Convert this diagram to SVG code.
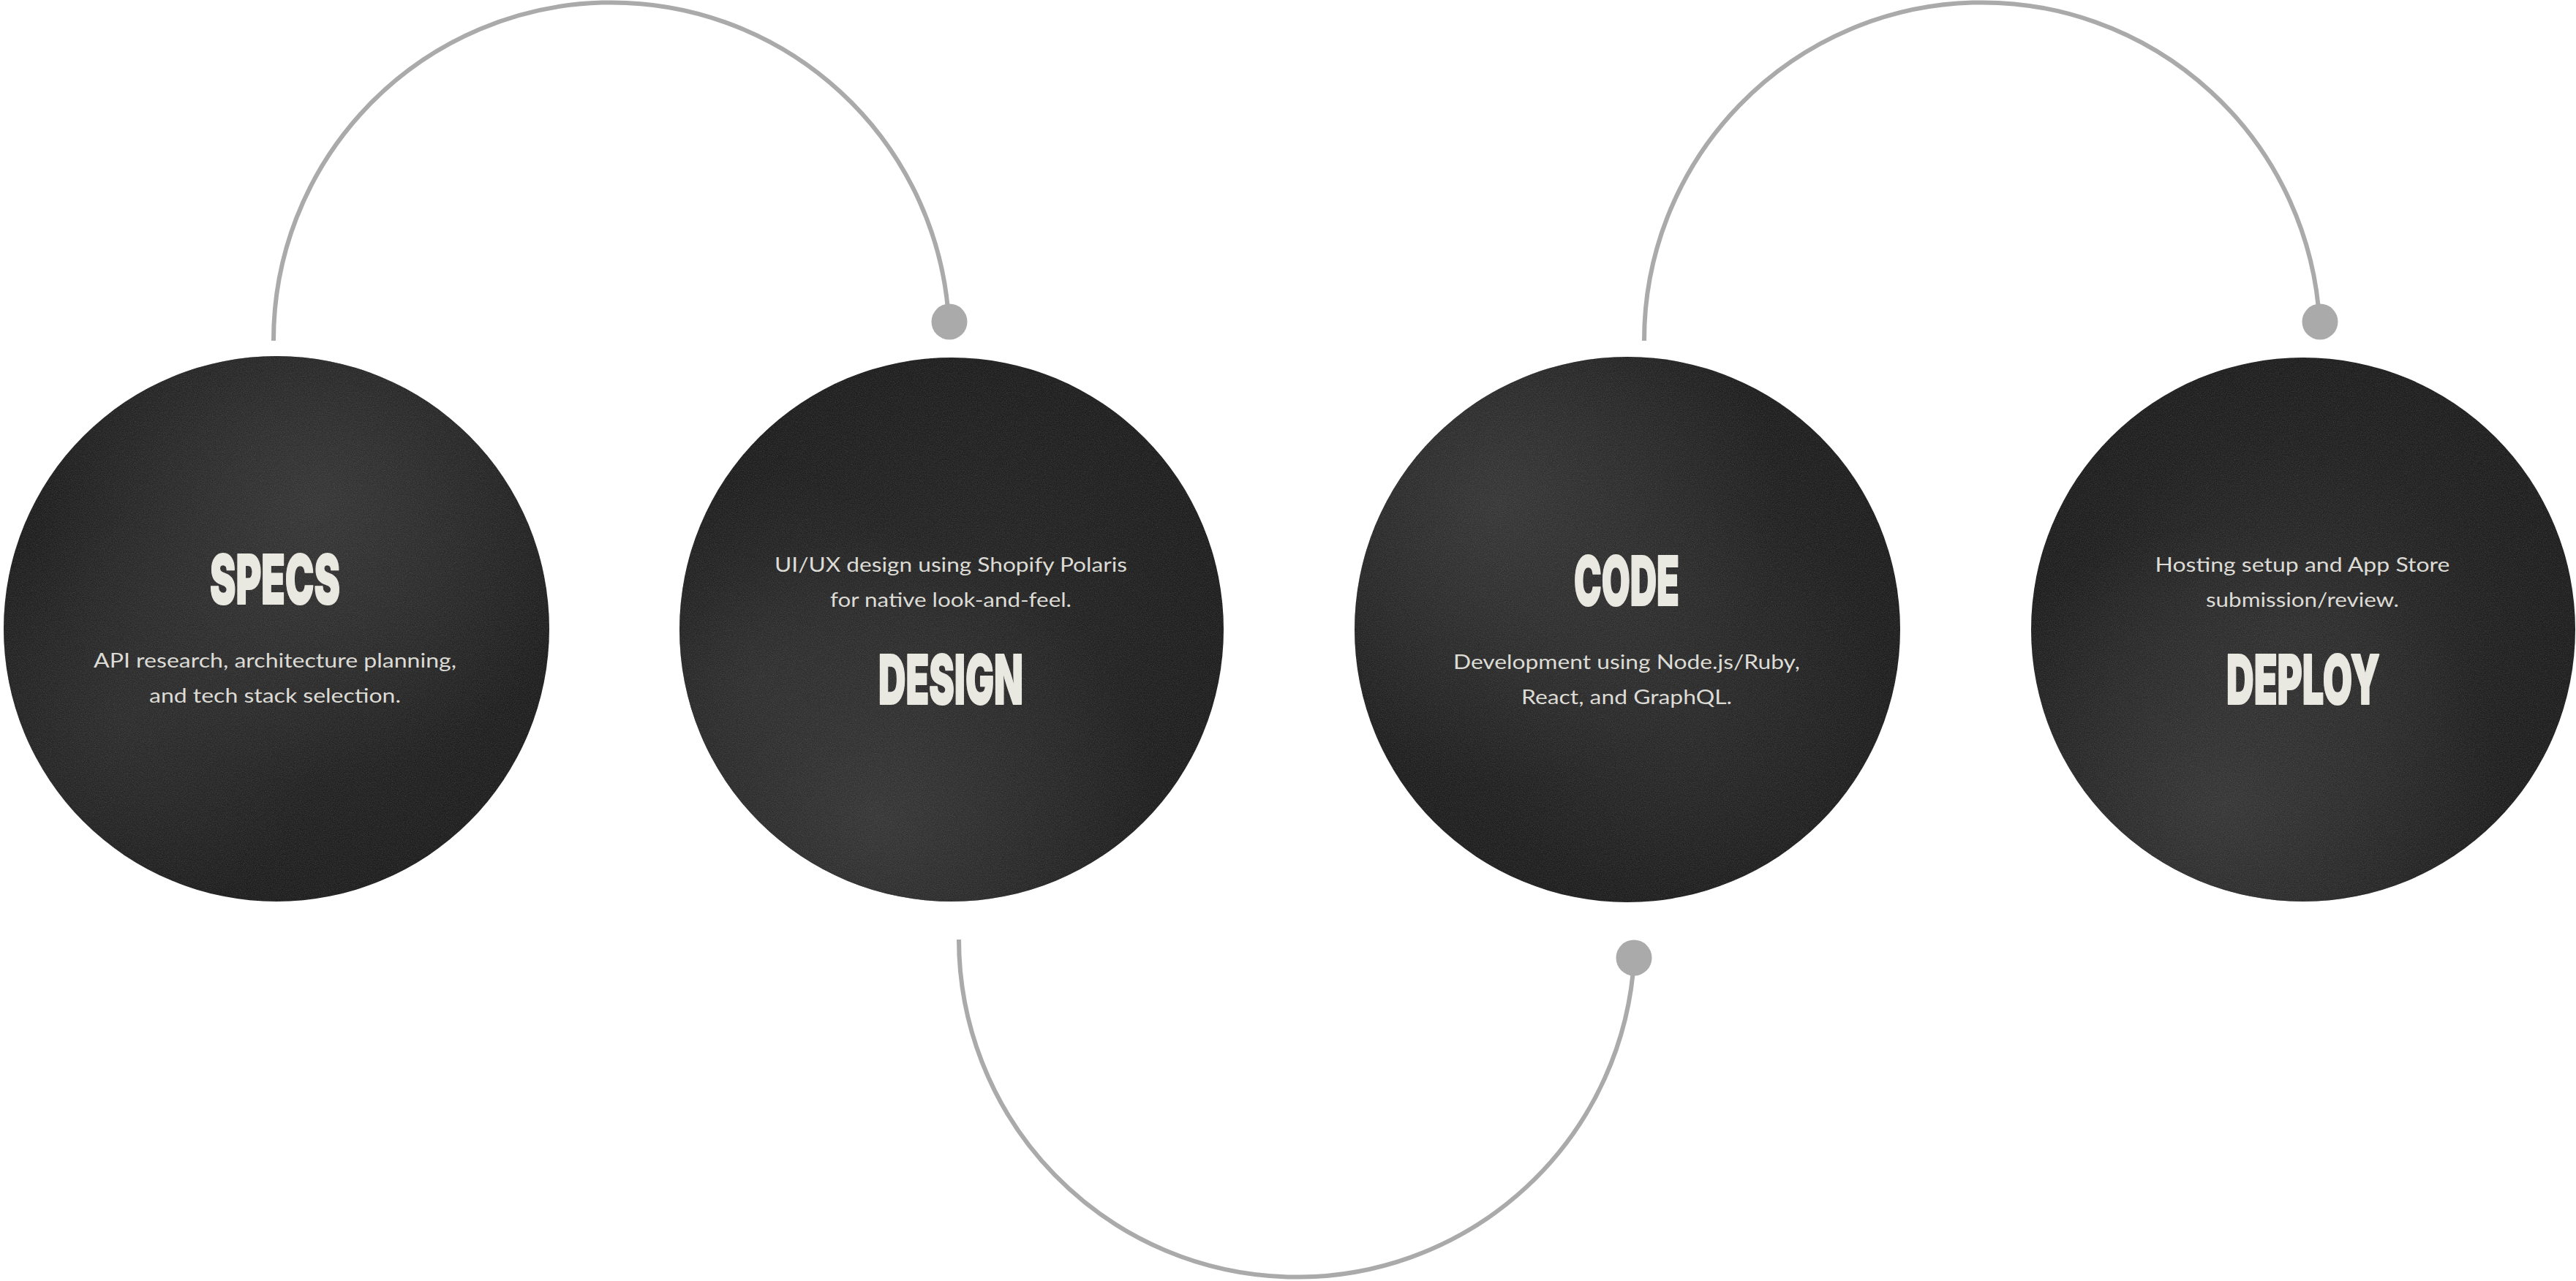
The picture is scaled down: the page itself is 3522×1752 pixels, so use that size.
<svg xmlns="http://www.w3.org/2000/svg" width="3522" height="1752" viewBox="0 0 3522 1752">
  <style>
    .title { font-family: Inter, "Liberation Sans", sans-serif; font-weight: 900; font-size: 94px; fill: #eae9e1; stroke: #eae9e1; stroke-width: 2; stroke-linejoin: round; text-anchor: middle; }
    .body { font-family: Lato, "Noto Sans", "Liberation Sans", sans-serif; font-size: 26px; fill: #dcdbd5; text-anchor: middle; }
    .link { fill: none; stroke: #aaaaaa; stroke-width: 6; }
    .dot { fill: #aaaaaa; }
  </style>
  <defs>
    <radialGradient id="base" cx="50%" cy="50%" r="50%">
      <stop offset="0" stop-color="#252525"/>
      <stop offset="1" stop-color="#1c1c1c"/>
    </radialGradient>
    <radialGradient id="hlSpecsA" gradientUnits="userSpaceOnUse" cx="430" cy="690" r="380">
      <stop offset="0" stop-color="#393939" stop-opacity="0.8"/>
      <stop offset="1" stop-color="#393939" stop-opacity="0"/>
    </radialGradient>
    <radialGradient id="hlSpecsB" gradientUnits="userSpaceOnUse" cx="170" cy="980" r="280">
      <stop offset="0" stop-color="#333333" stop-opacity="0.6"/>
      <stop offset="1" stop-color="#333333" stop-opacity="0"/>
    </radialGradient>
    <radialGradient id="hlDesignA" gradientUnits="userSpaceOnUse" cx="1200" cy="1120" r="380">
      <stop offset="0" stop-color="#3a3a3a" stop-opacity="0.8"/>
      <stop offset="1" stop-color="#3a3a3a" stop-opacity="0"/>
    </radialGradient>
    <radialGradient id="hlDesignB" gradientUnits="userSpaceOnUse" cx="1040" cy="930" r="280">
      <stop offset="0" stop-color="#333333" stop-opacity="0.6"/>
      <stop offset="1" stop-color="#333333" stop-opacity="0"/>
    </radialGradient>
    <radialGradient id="hlCodeA" gradientUnits="userSpaceOnUse" cx="2050" cy="690" r="380">
      <stop offset="0" stop-color="#3a3a3a" stop-opacity="0.8"/>
      <stop offset="1" stop-color="#3a3a3a" stop-opacity="0"/>
    </radialGradient>
    <radialGradient id="hlCodeB" gradientUnits="userSpaceOnUse" cx="2300" cy="960" r="280">
      <stop offset="0" stop-color="#313131" stop-opacity="0.5"/>
      <stop offset="1" stop-color="#313131" stop-opacity="0"/>
    </radialGradient>
    <radialGradient id="hlDeployA" gradientUnits="userSpaceOnUse" cx="3040" cy="1100" r="380">
      <stop offset="0" stop-color="#3a3a3a" stop-opacity="0.8"/>
      <stop offset="1" stop-color="#3a3a3a" stop-opacity="0"/>
    </radialGradient>
    <radialGradient id="hlDeployB" gradientUnits="userSpaceOnUse" cx="3120" cy="880" r="280">
      <stop offset="0" stop-color="#313131" stop-opacity="0.45"/>
      <stop offset="1" stop-color="#313131" stop-opacity="0"/>
    </radialGradient>
    <filter id="grain" x="0" y="0" width="100%" height="100%" filterUnits="objectBoundingBox">
      <feTurbulence type="fractalNoise" baseFrequency="0.85" numOctaves="2" seed="7" result="noise"/>
      <feColorMatrix in="noise" type="matrix" values="0 0 0 0 1  0 0 0 0 1  0 0 0 0 1  0.22 0 0 0 -0.07" result="speck"/>
      <feComposite in="speck" in2="SourceGraphic" operator="in"/>
    </filter>
  </defs>

  <rect width="3522" height="1752" fill="#ffffff"/>

  <g id="connectors">
    <path class="link" d="M374,466 A462,462 0 0 1 1297.3,440"/>
    <circle class="dot" cx="1298" cy="440" r="24.5"/>
    <path class="link" d="M1311,1287 L1311,1285 A462,462 0 0 0 2234.3,1310"/>
    <circle class="dot" cx="2234" cy="1310" r="24.5"/>
    <path class="link" d="M2248,466 A462,462 0 0 1 3171.3,440"/>
    <circle class="dot" cx="3172" cy="440" r="24.5"/>
  </g>

  <g id="node-specs">
    <circle cx="378" cy="860" r="373" fill="url(#base)"/>
    <circle cx="378" cy="860" r="373" fill="url(#hlSpecsA)"/>
    <circle cx="378" cy="860" r="373" fill="url(#hlSpecsB)"/>
    <circle cx="378" cy="860" r="373" fill="#ffffff" filter="url(#grain)"/>
    <text class="title" x="376" y="826" textLength="178" lengthAdjust="spacingAndGlyphs">SPECS</text>
    <text class="body" x="376" y="913" textLength="496" lengthAdjust="spacingAndGlyphs">API research, architecture planning,</text>
    <text class="body" x="376" y="961" textLength="344" lengthAdjust="spacingAndGlyphs">and tech stack selection.</text>
  </g>

  <g id="node-design">
    <circle cx="1301" cy="861" r="372" fill="url(#base)"/>
    <circle cx="1301" cy="861" r="372" fill="url(#hlDesignA)"/>
    <circle cx="1301" cy="861" r="372" fill="url(#hlDesignB)"/>
    <circle cx="1301" cy="861" r="372" fill="#ffffff" filter="url(#grain)"/>
    <text class="body" x="1300" y="781.5" textLength="482" lengthAdjust="spacingAndGlyphs">UI/UX design using Shopify Polaris</text>
    <text class="body" x="1300" y="829.5" textLength="330" lengthAdjust="spacingAndGlyphs">for native look-and-feel.</text>
    <text class="title" x="1300" y="963" textLength="198" lengthAdjust="spacingAndGlyphs">DESIGN</text>
  </g>

  <g id="node-code">
    <circle cx="2225" cy="861" r="373" fill="url(#base)"/>
    <circle cx="2225" cy="861" r="373" fill="url(#hlCodeA)"/>
    <circle cx="2225" cy="861" r="373" fill="url(#hlCodeB)"/>
    <circle cx="2225" cy="861" r="373" fill="#ffffff" filter="url(#grain)"/>
    <text class="title" x="2224" y="828" textLength="144" lengthAdjust="spacingAndGlyphs">CODE</text>
    <text class="body" x="2224" y="914.5" textLength="474" lengthAdjust="spacingAndGlyphs">Development using Node.js/Ruby,</text>
    <text class="body" x="2224" y="962.5" textLength="288" lengthAdjust="spacingAndGlyphs">React, and GraphQL.</text>
  </g>

  <g id="node-deploy">
    <circle cx="3149" cy="861" r="372" fill="url(#base)"/>
    <circle cx="3149" cy="861" r="372" fill="url(#hlDeployA)"/>
    <circle cx="3149" cy="861" r="372" fill="url(#hlDeployB)"/>
    <circle cx="3149" cy="861" r="372" fill="#ffffff" filter="url(#grain)"/>
    <text class="body" x="3148" y="781.5" textLength="403" lengthAdjust="spacingAndGlyphs">Hosting setup and App Store</text>
    <text class="body" x="3148" y="830" textLength="264" lengthAdjust="spacingAndGlyphs">submission/review.</text>
    <text class="title" x="3149" y="963" textLength="210" lengthAdjust="spacingAndGlyphs">DEPLOY</text>
  </g>
</svg>
